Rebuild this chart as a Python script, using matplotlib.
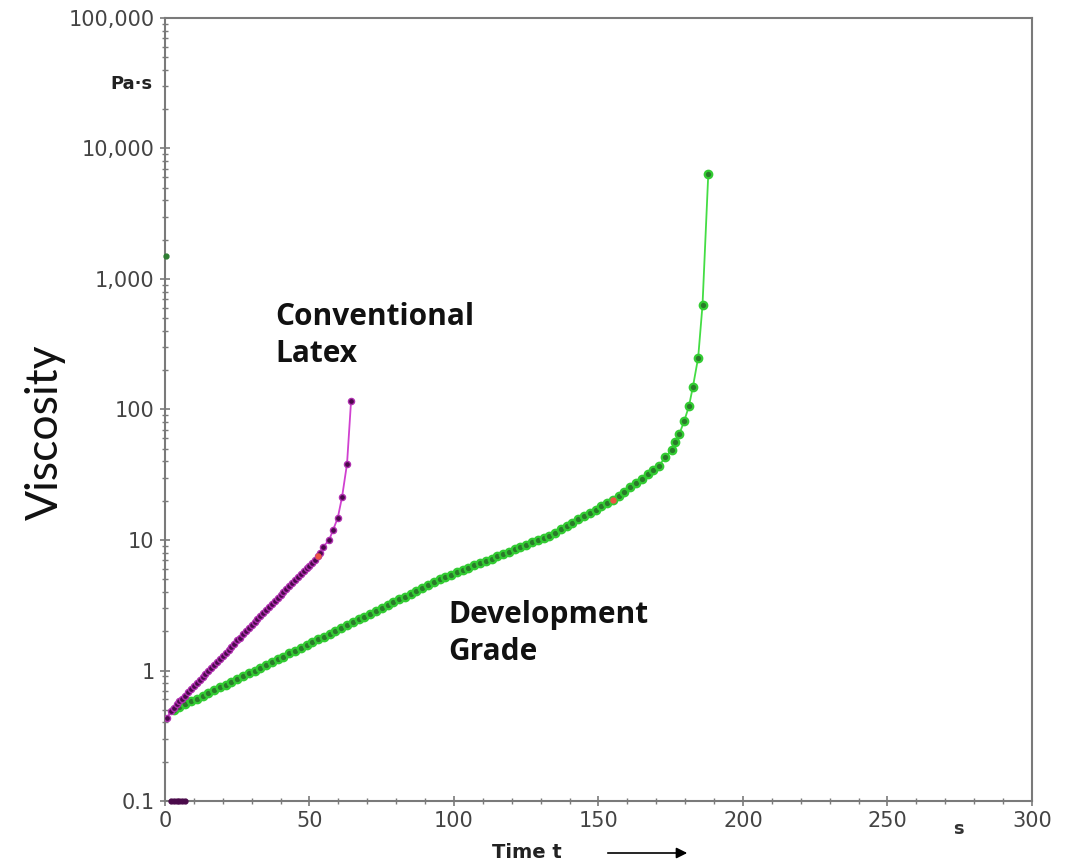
import matplotlib
matplotlib.use("Agg")
import matplotlib.pyplot as plt
from matplotlib.ticker import FixedLocator, LogLocator, NullFormatter, MultipleLocator

# ---- data ----
conv_t = [0.7, 2, 3, 4, 5, 6, 7, 8, 9, 10, 11, 12, 13, 14, 15, 16, 17, 18, 19, 20,
          21, 22, 23, 24, 25, 26, 27, 28, 29, 30, 31, 32, 33, 34, 35, 36, 37, 38, 39, 40,
          41, 42, 43, 44, 45, 46, 47, 48, 49, 50, 51, 52, 53, 53.6, 54.8, 56.8, 58.2,
          59.8, 61.3, 63.0, 64.4]
conv_v = [0.43, 0.49, 0.52, 0.55, 0.58, 0.61, 0.64, 0.68, 0.72, 0.76, 0.80, 0.84, 0.89,
          0.94, 0.99, 1.04, 1.10, 1.16, 1.23, 1.29, 1.37, 1.44, 1.52, 1.61, 1.70, 1.79,
          1.89, 2.00, 2.11, 2.22, 2.35, 2.48, 2.61, 2.76, 2.91, 3.07, 3.24, 3.42, 3.61,
          3.81, 4.02, 4.24, 4.46, 4.70, 4.95, 5.21, 5.48, 5.76, 6.05, 6.36, 6.68, 7.00,
          7.50, 7.90, 8.90, 10.0, 12.0, 14.8, 21.5, 38.5, 117.0]

dev_t = [3, 5, 7, 9, 11, 13, 15, 17, 19, 21, 23, 25, 27, 29, 31, 33, 35, 37, 39, 41,
         43, 45, 47, 49, 51, 53, 55, 57, 59, 61, 63, 65, 67, 69, 71, 73, 75, 77, 79, 81,
         83, 85, 87, 89, 91, 93, 95, 97, 99, 101, 103, 105, 107, 109, 111, 113, 115, 117,
         119, 121, 123, 125, 127, 129, 131, 133, 135, 137, 139, 141, 143, 145, 147, 149,
         151, 153, 155, 157, 159, 161, 163, 165, 167, 169, 171, 173, 175.4, 176.5, 178,
         179.7, 181.3, 182.7, 184.5, 186, 188]
dev_v = [0.500, 0.525, 0.552, 0.579, 0.609, 0.640, 0.673, 0.707, 0.743, 0.780, 0.820,
         0.861, 0.905, 0.951, 1.00, 1.05, 1.10, 1.16, 1.22, 1.28, 1.35, 1.41, 1.49, 1.56,
         1.64, 1.73, 1.82, 1.91, 2.01, 2.11, 2.22, 2.34, 2.46, 2.59, 2.72, 2.86, 3.01,
         3.17, 3.33, 3.51, 3.69, 3.88, 4.08, 4.30, 4.52, 4.75, 5.00, 5.21, 5.42, 5.65,
         5.88, 6.12, 6.38, 6.64, 6.92, 7.20, 7.50, 7.81, 8.13, 8.47, 8.82, 9.18, 9.57,
         9.96, 10.4, 10.8, 11.4, 12.1, 12.8, 13.6, 14.4, 15.3, 16.2, 17.1, 18.2, 19.2,
         20.4, 21.8, 23.5, 25.3, 27.3, 29.5, 31.8, 34.3, 37.0, 43.0, 49.0, 56.0, 65.0,
         82.0, 106.0, 150.0, 250.0, 630.0, 6400.0]

stray_green_t = [0.5]
stray_green_v = [1500.0]
stray_purple_t = [2, 3, 4, 5, 6, 7]
stray_purple_v = [0.1, 0.1, 0.1, 0.1, 0.1, 0.1]
red_t = [53.0, 155.0]
red_v = [7.5, 20.4]

y_ticks = [0.1, 1, 10, 100, 1000, 10000, 100000]
y_labels = ["0.1", "1", "10", "100", "1,000", "10,000", "100,000"]
x_ticks = [0, 50, 100, 150, 200, 250, 300]
x_labels = ["0", "50", "100", "150", "200", "250", "300"]

# ---- figure ----
W, H = 1079, 864
fig = plt.figure(figsize=(10.79, 8.64), dpi=100)
ax = fig.add_axes([0.1529, 0.0729, 0.8035, 0.9063])

ax.plot(dev_t, dev_v, color="#44dd44", lw=1.3, marker="o", ms=5.4,
        mfc="#2a7a2a", mec="#33cc33", mew=1.6, zorder=3)
ax.plot(conv_t, conv_v, color="#d040d0", lw=1.3, marker="o", ms=4.4,
        mfc="#4a0a4a", mec="#b030b0", mew=1.0, zorder=4)
ax.plot(red_t, red_v, ls="none", marker="o", ms=3.6, color="#ee5544", zorder=5)
ax.plot(stray_green_t, stray_green_v, ls="none", marker="o", ms=3.5,
        color="#2e7d32", clip_on=False, zorder=5)
ax.plot(stray_purple_t, stray_purple_v, ls="none", marker="o", ms=3.5,
        color="#4a0a4a", clip_on=False, zorder=5)

ax.set_yscale("log")
ax.set_xlim(0, 300)
ax.set_ylim(0.1, 100000)

ax.yaxis.set_major_locator(FixedLocator(y_ticks))
ax.set_yticklabels(y_labels)
ax.yaxis.set_minor_locator(LogLocator(base=10, subs=range(2, 10), numticks=20))
ax.yaxis.set_minor_formatter(NullFormatter())
ax.xaxis.set_major_locator(FixedLocator(x_ticks))
ax.set_xticklabels(x_labels)
ax.xaxis.set_minor_locator(MultipleLocator(10))

gray = "#7a7a7a"
for s in ax.spines.values():
    s.set_color(gray)
    s.set_linewidth(1.5)
ax.tick_params(which="major", direction="inout", length=7, width=1.2,
               color=gray, labelsize=15, labelcolor="#444444", pad=4)
ax.tick_params(which="minor", direction="inout", length=4, width=1.0, color=gray)
for lab in ax.get_xticklabels() + ax.get_yticklabels():
    lab.set_family("DejaVu Sans")

# texts
fig.text(45 / W, 1 - 432 / H, "Viscosity", rotation=90, ha="center", va="center",
         fontsize=32, family="Lato", color="#111111")
fig.text(153 / W, 1 - 84 / H, "Pa·s", ha="right", va="center", fontsize=13,
         fontweight="bold", family="DejaVu Sans", color="#222222")
fig.text(958 / W, 1 - 829 / H, "s", ha="center", va="center", fontsize=13,
         fontweight="bold", family="DejaVu Sans", color="#333333")
fig.text(527 / W, 1 - 853 / H, "Time t", ha="center", va="center", fontsize=14,
         fontweight="bold", family="DejaVu Sans", color="#222222")
fig.add_artist(matplotlib.patches.FancyArrowPatch(
    (605 / W, 1 - 853 / H), (690 / W, 1 - 853 / H),
    transform=fig.transFigure, arrowstyle="-|>", mutation_scale=16,
    color="black", lw=1.2))

fig.text(275 / W, 1 - 302 / H, "Conventional\nLatex", ha="left", va="top", fontsize=21.5,
         fontweight="bold", family="Open Sans", color="#111111", linespacing=1.3)
fig.text(448 / W, 1 - 600 / H, "Development\nGrade", ha="left", va="top", fontsize=21.5,
         fontweight="bold", family="Open Sans", color="#111111", linespacing=1.3)

fig.savefig("out.png", dpi=100)
